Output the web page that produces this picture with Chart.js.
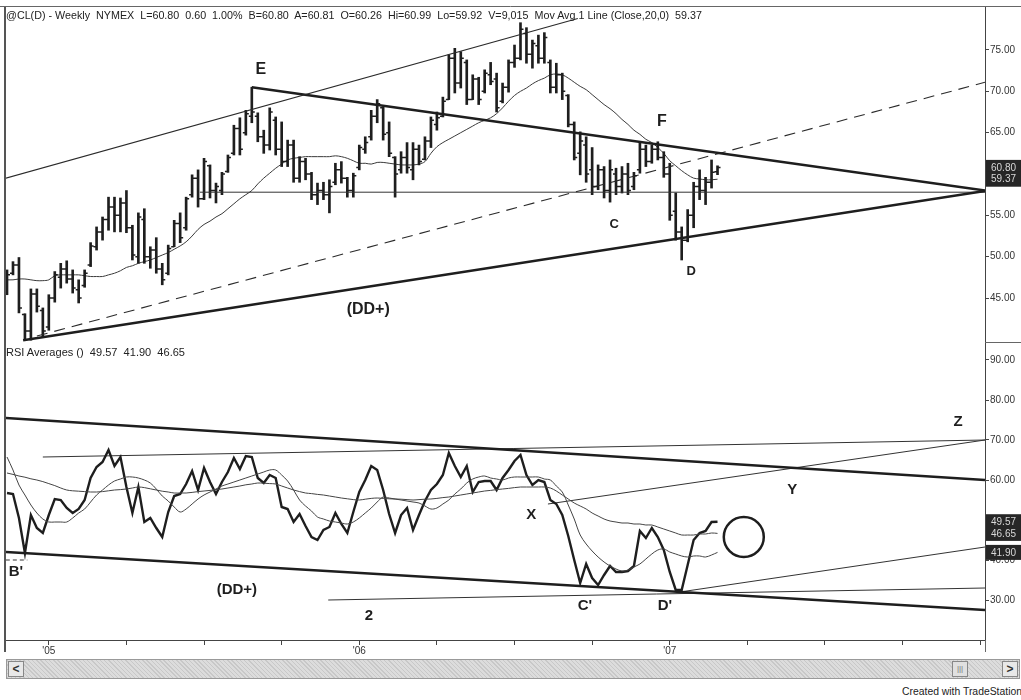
<!DOCTYPE html>
<html><head><meta charset="utf-8">
<script src="https://cdn.jsdelivr.net/npm/chart.js@4.4.0/dist/chart.umd.min.js"></script>
<style>
html,body{margin:0;padding:0;background:#fff;width:1021px;height:700px;overflow:hidden;font-family:Arial,"Liberation Sans",sans-serif;}
canvas{position:absolute;left:0;}
#c1{top:0;}
#c2{top:343px;}
.txt{position:absolute;white-space:pre;color:#222;transform-origin:0 0;line-height:1;}
#hdr{left:6px;top:10px;font-size:11px;}
#rsiHdr{left:6px;top:347px;font-size:11px;}
#credit{right:3px;top:687px;font-size:10px;}
#scroll{position:absolute;left:6px;top:659px;width:1012px;height:18px;border:1px solid #999;
 background-color:#d4d4d4;background-image:repeating-linear-gradient(45deg,#c8c8c8 0 1px,#dcdcdc 1px 3px);}
.btn{position:absolute;top:1px;width:14px;height:14px;border:1px solid #888;background:#e8e8e8;font-size:12px;font-weight:bold;text-align:center;line-height:14px;color:#333;}
#bl{left:1px;}#br{right:1px;}
#thumb{position:absolute;left:945px;top:1px;width:14px;height:14px;border:1px solid #888;background:#e0e0e0;font-size:8px;text-align:center;line-height:14px;color:#777;}
</style></head><body>
<canvas id="c1" width="1021" height="343"></canvas>
<canvas id="c2" width="1021" height="320"></canvas>
<div id="hdr" class="txt">@CL(D) - Weekly  NYMEX  L=60.80  0.60  1.00%  B=60.80  A=60.81  O=60.26  Hi=60.99  Lo=59.92  V=9,015  Mov Avg 1 Line (Close,20,0)  59.37</div>
<div id="rsiHdr" class="txt">RSI Averages ()  49.57  41.90  46.65</div>
<div id="scroll"><div id="bl" class="btn">&lt;</div><div id="thumb">|||</div><div id="br" class="btn">&gt;</div></div>
<div id="credit" class="txt">Created with TradeStation</div>
<script>
// ---------- DATA (weekly bars, index 0 = mid Nov 2004) ----------
const highs = [48.4,49.4,49.9,43.1,46.1,46.1,43.8,45.4,48.2,49.2, 49.5,48.4,47.2,48.4,51.7,53.6,54.8,57.2,57.2,57.1,
 58.0,53.8,55.3,55.8,51.2,52.3,49.2,51.4,54.4,55.3, 57.2,59.9,60.5,61.9,61.1,58.9,60.2,62.3,65.9,66.8,
 67.7,70.5,67.4,65.3,68.0,66.9,66.3,64.1,64.1,62.1, 61.9,60.2,58.9,59.0,59.3,61.3,61.5,59.6,60.1,63.5,
 64.5,67.7,69.0,68.1,66.3,62.1,62.7,63.8,63.8,63.5, 64.5,66.9,67.5,69.3,74.4,75.2,74.8,73.8,72.0,71.7,
 72.6,73.5,72.2,71.0,73.8,75.6,78.3,77.7,76.2,76.8, 77.1,73.8,73.4,72.2,69.6,66.3,65.1,64.5,63.2,61.1,
 60.9,61.7,60.7,60.9,61.3,60.2,63.8,63.5,63.5,63.9, 62.7,61.3,57.7,53.6,55.7,59.0,60.5,59.6,61.7,60.99];
const lows = [45.4,47.8,43.2,39.9,39.9,43.3,40.3,41.1,44.5,46.2, 46.8,45.6,44.4,46.3,48.8,50.8,52.0,53.2,53.0,53.0,
 52.9,49.6,49.2,49.2,48.6,48.0,46.6,47.8,51.2,51.7, 53.2,57.2,56.0,56.9,57.1,56.5,57.5,60.2,62.3,62.3,
 64.7,66.2,63.9,62.5,62.9,62.3,60.9,60.9,59.0,59.0, 59.3,56.9,56.3,56.9,55.3,58.7,58.9,57.2,57.2,60.5,
 62.5,64.1,66.2,64.1,62.1,57.2,60.1,60.1,59.3,61.1, 61.7,63.2,65.3,66.9,69.0,69.8,70.4,68.4,69.0,68.4,
 69.8,70.8,67.5,68.6,69.9,72.9,73.8,73.4,72.8,73.4, 73.4,69.8,69.8,69.0,65.7,61.7,59.9,59.0,57.5,58.1,
 57.1,56.6,57.5,57.7,57.5,58.1,60.1,60.9,61.3,61.7, 59.6,54.4,52.0,49.6,51.8,53.5,56.9,56.3,58.3,59.92];
const opens = [46.0,48.0,49.0,43.0,41.0,45.5,43.5,41.5,45.0,47.5, 48.5,47.3,46.0,46.5,49.0,51.2,53.0,54.5,56.0,55.0,
 56.5,53.5,50.0,54.5,50.0,50.8,48.5,48.0,51.2,54.0, 53.5,57.5,59.5,57.0,61.0,58.0,58.0,60.3,62.5,65.5,
 65.0,67.0,67.0,64.5,63.5,66.5,63.0,61.5,63.5,59.5, 61.5,60.0,57.5,58.0,57.5,59.0,60.5,59.5,58.0,60.8,
 63.0,64.5,67.0,68.0,65.0,62.0,60.5,62.0,60.5,63.0, 61.8,64.0,66.0,67.0,69.0,74.0,71.0,73.5,69.0,71.5,
 70.0,72.0,71.5,68.8,70.5,73.5,74.0,77.0,74.5,75.5, 74.0,73.5,70.5,72.0,69.5,66.0,62.5,63.5,60.5,58.5,
 60.5,58.0,60.0,58.5,60.0,58.5,60.5,63.0,61.5,63.0, 62.0,60.0,55.5,53.0,52.0,55.0,58.5,58.0,59.0,60.26];
const closes = [47.8,49.0,43.8,41.0,45.5,44.0,41.0,45.0,47.8,48.5, 47.3,46.2,45.0,48.0,51.3,53.0,54.5,56.0,55.0,56.5,
 53.5,50.2,54.8,50.0,50.8,48.5,47.2,51.0,54.0,52.3, 57.0,59.5,57.0,61.5,58.0,58.5,60.0,62.0,65.5,63.0,
 67.3,67.5,64.5,63.5,67.5,63.0,61.5,63.5,59.5,61.5, 60.0,57.5,58.0,57.5,58.5,60.5,59.5,58.0,59.8,63.2,
 63.8,67.0,68.5,64.8,62.5,60.0,62.0,60.8,63.0,61.5, 64.0,66.5,66.8,68.8,74.0,71.0,74.0,69.0,71.5,69.0,
 72.2,71.2,68.0,70.5,73.5,74.0,77.5,74.5,75.8,74.0, 76.5,70.5,72.0,70.0,66.0,62.0,64.0,60.0,58.5,60.5,
 58.0,60.5,58.5,60.0,58.0,59.8,63.0,61.5,63.0,62.0, 60.0,55.0,53.0,52.0,55.0,58.5,58.0,59.0,60.2,60.80];
const movAvg20 = [47.2,47.2,47.3,47.3,47.2,47.1,47.1,47.2,47.7,47.8, 47.8,47.8,47.8,47.7,47.6,47.6,47.6,47.8,48.0,48.3,
 48.7,48.9,49.2,49.4,49.6,49.9,50.2,50.5,50.9,51.3, 51.8,52.5,53.3,53.9,54.3,54.8,55.2,55.8,56.4,57.0,
 57.5,58.0,58.8,59.5,60.1,60.7,61.2,61.7,61.9,62.0, 62.1,62.1,62.1,62.1,62.1,62.2,62.1,61.9,61.6,61.3,
 61.3,61.2,61.4,61.4,61.3,61.2,61.1,61.1,61.1,61.2, 61.5,62.5,63.3,63.8,64.2,64.6,65.0,65.4,65.8,66.2,
 66.5,66.8,67.3,68.0,68.8,69.5,70.0,70.4,70.9,71.3, 71.6,72.0,72.1,72.0,71.6,71.1,70.6,70.2,69.6,69.0,
 68.4,67.9,67.3,66.6,66.0,65.3,64.8,64.2,63.8,63.2, 62.5,61.6,61.0,60.4,59.9,59.5,59.4,59.3,59.3,59.37];
const rsi = [56.75,56.5,50.5,41.75,51.25,48,46.75,51.25,55.25,55, 53,51.75,52.75,55,60.5,63.25,64.5,67.5,63.5,65.75,
 58.25,51.75,58.25,49.5,50.5,48,45.75,52,56,56.5, 59,62.25,57.5,63,59.5,56.5,59.5,62,65.5,62.75,
 66,65.75,60.5,59.25,61.25,60.5,53.25,52.75,49.5,51.5, 48.5,45.75,45,47.5,48.25,51.75,49,46.75,52,57,
 60,63.5,62.5,57.5,51.5,46.75,51.25,53,47.5,51.25, 54.75,57.5,59,61.25,66.75,63.5,60.75,63.5,57,59.5,
 59.75,59.75,57.5,60.5,62.5,64.75,66.25,61.25,58.75,60, 59.5,55,54,51.25,46,40,34.25,39,35.5,33.75,
 36.25,38.5,37,37,37.25,38.5,47.25,45.5,48,45.75, 42.5,37,32.5,32.5,38.75,45,46.75,47.25,49.5,49.57];
const rsiAvgFast = [65.75,62.5,58.75,56.25,53.75,51.75,50.25,49.5,49.5,49.5, 49.5,50.5,51.75,52.75,54.5,56.25,57.5,58.75,59.75,60.25,
 60.75,60.75,60.5,60,59.25,57.75,56,54.75,53.25,52, 52.75,54,55.25,56.25,57,57.75,58.5,59,59.5,60,
 60.5,61,61.5,62,62.5,62.5,61.25,59.75,57.5,55, 53.5,52.25,50.75,50.25,49.75,49.5,49.25,49,49.5,50.5,
 51.75,53,54.5,55.75,55.5,55.25,55,54.75,54.5,54.25, 53.5,52.75,53,54,55,56.5,57.75,59.25,60.25,60.75,
 61,60.5,60.25,60,60.5,60.75,60.75,60.75,60.75,60.75, 60.25,60,58.5,57,53.75,50.25,46.25,44,42.25,40.75,
 39.5,38.5,37.75,37.25,37.5,38.25,39,40.25,41.5,42.5, 42.75,42,41.5,41,40.75,41,41,40.75,41.25,41.9];
const rsiAvgSlow = [61.75,61.4,61,60.7,60.3,60,59.6,59.1,58.6,58, 57.5,57.3,57.2,57.1,57,57,57.1,57.3,57.5,57.6,
 57.75,58,58.25,58.1,57.8,57.5,57.2,57,56.75,56.75, 56.75,56.9,57.1,57.25,57.4,57.6,57.75,58,58.25,58.5,
 58.8,59,59.25,59.2,59.1,59,58.5,58,57.5,57.1, 56.75,56.6,56.4,56.25,56,55.75,55.5,55.3,55.1,55,
 55.2,55.4,55.5,55.4,55.3,55.25,55.2,55.1,55,55.1, 55.2,55.25,55.4,55.6,55.75,56,56.25,56.5,56.75,57,
 57.25,57.4,57.6,57.75,57.9,58.1,58.25,58.25,58.25,58.25, 58.25,58,57.25,56.25,55.25,54.25,53.5,52.75,51.75,51,
 50.25,49.75,49.5,49.25,49.25,49,49,48.75,48.75,48.25, 47.75,47.25,46.75,46.25,46.25,46.25,46.5,46.5,46.75,46.65];

// trendlines: [barIndex, value] end points
const channelUpper = [[-0.2,59.5],[95.6,78.8]];
const lineFromE = [[41,70.5],[163.8,58.0]];
const lineDDplus = [[2.7,39.9],[163.8,57.95]];
const lineDashed = [[5,40.4],[163.8,71.1]];
const lineFlat = [[32.3,57.8],[163.8,57.8]];
const rsiTopLine = [[-0.2,75.5],[163.8,60]];
const rsiBottomLine = [[-0.2,42],[163.8,27.5]];
const rsiUpperThin = [[6,65.75],[163.8,70]];
const rsiXtoZ = [[90.6,54],[163.8,70]];
const rsiFromD = [[112.7,32],[163.8,43.25]];
const rsiLine2 = [[53.8,30],[163.8,33]];
const rsiBDash = [[-0.2,40],[3.4,40]];

// text notes: [text, barIndex, value]
const priceNotes = [['E',42.5,72.6],['F',109.7,66.3],['C',101.7,53.9],['D',114.6,48.2],['(DD+)',60.5,43.55]];
const rsiNotes = [["B'",1.5,37],['(DD+)',38.5,32.5],['2',60.6,26],['X',87.8,51.25],["C'",96.8,28.5],["D'",110.2,28.5],['Y',131.5,57.5],['Z',159.3,74.5]];
const circleAt = [123.4,45.75];

// axes
const xMin = -0.17, xMax = 163.8;
const quarterTicks = [7,20,33,46,59,72,85,98,111,124,137,150,163];
const yearLabels = {7:"'05",59:"'06",111:"'07"};
const priceTicks = [45,50,55,60,65,70,75];
const rsiTicks = [30,40,50,60,70,80,90];
const priceBoxes = [[60.80],[59.37]];
const rsiBoxes = [[49.57],[46.65],[41.90]];

// ---------- helpers ----------
const INK = '#1e1e1e';
function seg(pts, w, dash, color){
  return {type:'line', data:pts.map(p=>({x:p[0],y:p[1]})), borderColor:color||INK, borderWidth:w,
    borderDash:dash||[], pointRadius:0, tension:0, fill:false};
}
function series(arr, w, color, tension){
  return {type:'line', data:arr.map((v,i)=>({x:i,y:v})), borderColor:color, borderWidth:w,
    pointRadius:0, tension:tension, fill:false};
}
function noPad(s){ s.paddingTop = 0; s.paddingBottom = 0; s.paddingLeft = 0; s.paddingRight = 0; }
function xScale(show){
  return {type:'linear', min:xMin, max:xMax, offset:false, display:show,
    afterBuildTicks(s){ s.ticks = quarterTicks.map(v=>({value:v})); },
    afterFit(s){ if(show) s.height = 23; noPad(s); },
    ticks:{autoSkip:false, maxRotation:0, padding:0, color:'#333', font:{size:10},
      callback:(v)=> yearLabels[v] || ''},
    grid:{drawOnChartArea:false, offset:false, tickLength:5, color:'#444'},
    border:{display:show, color:'#444', width:1}};
}
function yScale(min,max,ticks){
  return {position:'right', min:min, max:max,
    afterFit(s){ s.width = 36; noPad(s); },
    afterBuildTicks(s){ s.ticks = ticks.map(v=>({value:v})); },
    ticks:{callback:v=>Number(v).toFixed(2), color:'#333', font:{size:10}, padding:1},
    grid:{drawOnChartArea:false, tickLength:4, color:'#444'},
    border:{color:'#444', width:1}};
}
const notesPlugin = (notes, font) => ({
  id:'notes',
  afterDatasetsDraw(chart){
    const {ctx, scales:{x,y}} = chart;
    ctx.save(); ctx.fillStyle = INK; ctx.textAlign='center'; ctx.textBaseline='middle';
    notes.forEach(n=>{ ctx.font = font(n[0]); ctx.fillText(n[0], x.getPixelForValue(n[1]), y.getPixelForValue(n[2])); });
    ctx.restore();
  }
});
const boxesPlugin = (boxes) => ({
  id:'boxes',
  afterDraw(chart){
    const {ctx, chartArea, scales:{y}} = chart;
    ctx.save();
    boxes.forEach(b=>{
      const py = y.getPixelForValue(b[0]);
      ctx.fillStyle = '#262626';
      ctx.fillRect(chartArea.right+1, py-7.5, 36, 15);
    });
    ctx.fillStyle = '#d8d8d8'; ctx.font = '10px Arial'; ctx.textAlign='left'; ctx.textBaseline='middle';
    boxes.forEach(b=>{ ctx.fillText(b[0].toFixed(2), chartArea.right+6, y.getPixelForValue(b[0])+0.5); });
    ctx.restore();
  }
});
const framePlugin = (isTop) => ({
  id:'frame',
  afterDraw(chart){
    const {ctx, chartArea:a} = chart;
    ctx.save();
    ctx.strokeStyle = '#555'; ctx.lineWidth = 2;
    ctx.beginPath(); ctx.moveTo(a.left-1, isTop ? a.top : 0); ctx.lineTo(a.left-1, a.bottom + (isTop?0:12)); ctx.stroke();
    ctx.lineWidth = 1; ctx.strokeStyle = '#666';
    if(isTop){
      ctx.beginPath(); ctx.moveTo(0, a.top-0.5); ctx.lineTo(chart.width, a.top-0.5); ctx.stroke();
      ctx.beginPath(); ctx.moveTo(a.right, a.bottom-0.5); ctx.lineTo(chart.width, a.bottom-0.5); ctx.stroke();
    } else {
      ctx.beginPath(); ctx.moveTo(a.right+0.5, a.bottom); ctx.lineTo(a.right+0.5, a.bottom+12); ctx.stroke();
    }
    ctx.restore();
  }
});
const ohlcTicks = {
  id:'ohlcTicks',
  afterDatasetsDraw(chart){
    const {ctx, scales:{x,y}} = chart;
    ctx.save(); ctx.strokeStyle = INK; ctx.lineWidth = 1.5;
    ctx.beginPath();
    for(let i=0;i<opens.length;i++){
      const px = x.getPixelForValue(i);
      const yo = y.getPixelForValue(opens[i]), yc = y.getPixelForValue(closes[i]);
      ctx.moveTo(px-3, yo); ctx.lineTo(px, yo);
      ctx.moveTo(px, yc); ctx.lineTo(px+3, yc);
    }
    ctx.stroke(); ctx.restore();
  }
};
const circlePlugin = {
  id:'circle',
  afterDatasetsDraw(chart){
    const {ctx, scales:{x,y}} = chart;
    ctx.save(); ctx.strokeStyle = INK; ctx.lineWidth = 2.5;
    ctx.beginPath(); ctx.arc(x.getPixelForValue(circleAt[0]), y.getPixelForValue(circleAt[1]), 20, 0, Math.PI*2); ctx.stroke();
    ctx.restore();
  }
};

Chart.defaults.font.family = 'Arial, "Liberation Sans", sans-serif';
const common = {responsive:false, animation:false, events:[],
  plugins:{legend:{display:false}, tooltip:{enabled:false}}};

// ---------- price chart ----------
new Chart(document.getElementById('c1'), {
  type:'bar',
  data:{datasets:[
    {type:'bar', data:highs.map((h,i)=>({x:i, y:[lows[i],h]})), backgroundColor:INK, borderWidth:0, barThickness:2, order:1},
    Object.assign(series(movAvg20, 1, '#3a3a3a', 0.35), {order:2}),
    seg(channelUpper, 1.1, null, '#2a2a2a'),
    seg(lineFromE, 2.6),
    seg(lineDDplus, 2.6),
    seg(lineDashed, 1.1, [11,7], '#2a2a2a'),
    seg(lineFlat, 1, null, '#333')
  ]},
  options:Object.assign({}, common, {
    layout:{padding:{left:6, top:7, right:0, bottom:0}},
    scales:{x:xScale(false), y:yScale(39.56, 80.2, priceTicks)}
  }),
  plugins:[ohlcTicks, notesPlugin(priceNotes, t => (t==='C'||t==='D') ? 'bold 13px Arial' : 'bold 16px Arial'), boxesPlugin(priceBoxes), framePlugin(true)]
});

// ---------- RSI chart ----------
new Chart(document.getElementById('c2'), {
  type:'line',
  data:{datasets:[
    series(rsiAvgSlow, 1, '#444', 0.35),
    series(rsiAvgFast, 1, '#444', 0.35),
    series(rsi, 2.4, INK, 0),
    seg(rsiTopLine, 2.6),
    seg(rsiBottomLine, 2.6),
    seg(rsiUpperThin, 1, null, '#333'),
    seg(rsiXtoZ, 1, null, '#333'),
    seg(rsiFromD, 1, null, '#333'),
    seg(rsiLine2, 1, null, '#333'),
    seg(rsiBDash, 1, [4,3], '#333')
  ]},
  options:Object.assign({}, common, {
    layout:{padding:{left:6, top:0, right:0, bottom:0}},
    scales:{x:xScale(true), y:yScale(20, 94.25, rsiTicks)}
  }),
  plugins:[notesPlugin(rsiNotes, t => 'bold 15px Arial'), circlePlugin, boxesPlugin(rsiBoxes), framePlugin(false)]
});

// fit header texts to their widths in the picture
function fitWidth(id, w){ const el=document.getElementById(id); const r=el.getBoundingClientRect().width; el.style.transform='scaleX('+(w/r)+')'; }
fitWidth('hdr', 696);
fitWidth('rsiHdr', 179);
fitWidth('credit', 120);
</script>
</body></html>
